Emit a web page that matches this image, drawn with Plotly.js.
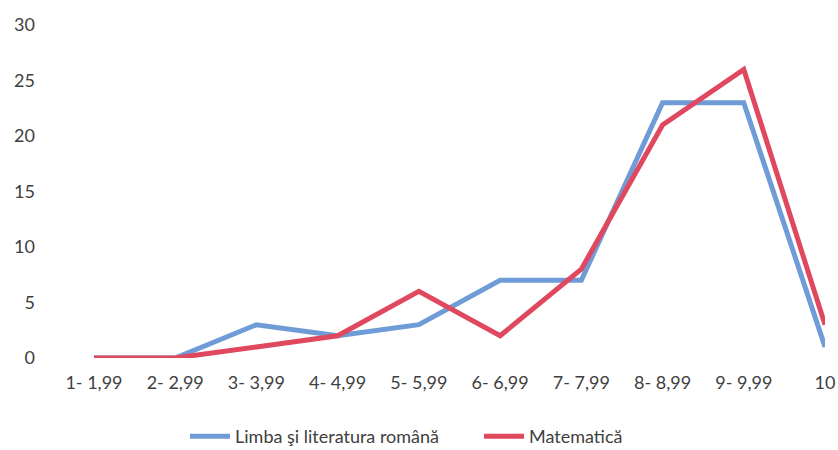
<!DOCTYPE html>
<html>
<head>
<meta charset="utf-8">
<script src="https://cdn.plot.ly/plotly-3.0.1.min.js"></script>
<style>html,body{margin:0;padding:0;background:#fff;}#chart{width:838px;height:450px;}</style>
</head>
<body>
<div id="chart"></div>
<script>
const categories = ["1- 1,99","2- 2,99","3- 3,99","4- 4,99","5- 5,99","6- 6,99","7- 7,99","8- 8,99","9- 9,99","10"];
const limbaRomana = [0,0,3,2,3,7,7,23,23,1];
const matematica = [0,0,1,2,6,2,8,21,26,3];
const seriesNames = ["Limba şi literatura română","Matematică"];
const yTicks = [0,5,10,15,20,25,30];

const traces = [
  {x: categories, y: limbaRomana, name: seriesNames[0], type: "scatter", mode: "lines",
   line: {color: "#6f9bd6", width: 5}, cliponaxis: false},
  {x: categories, y: matematica, name: seriesNames[1], type: "scatter", mode: "lines",
   line: {color: "#e0485f", width: 5}, cliponaxis: false}
];

const layout = {
  width: 838, height: 450,
  margin: {l: 94, r: 13, t: 25, b: 92},
  paper_bgcolor: "#fff", plot_bgcolor: "#fff",
  font: {family: "Lato, Open Sans, sans-serif", size: 17, color: "#404040"},
  showlegend: true,
  legend: {orientation: "h", xref: "container", yref: "container", x: 0.2208, xanchor: "left",
           y: 0.03, yanchor: "middle", entrywidth: 239, entrywidthmode: "pixels",
           font: {size: 18, color: "#404040"}, itemwidth: 40, tracegroupgap: 0},
  xaxis: {type: "category", range: [0, 9], showgrid: false, zeroline: false, showline: false,
          automargin: false,
          ticks: "", ticklabelstandoff: 12, tickfont: {size: 18, color: "#404040"}, fixedrange: true},
  yaxis: {range: [0, 30], tickvals: yTicks, showgrid: false, zeroline: false, showline: false,
          automargin: false,
          ticks: "", ticklabelstandoff: 58, tickfont: {size: 18, color: "#404040"}, fixedrange: true}
};

Plotly.newPlot("chart", traces, layout, {displayModeBar: false, staticPlot: true});
</script>
</body>
</html>
